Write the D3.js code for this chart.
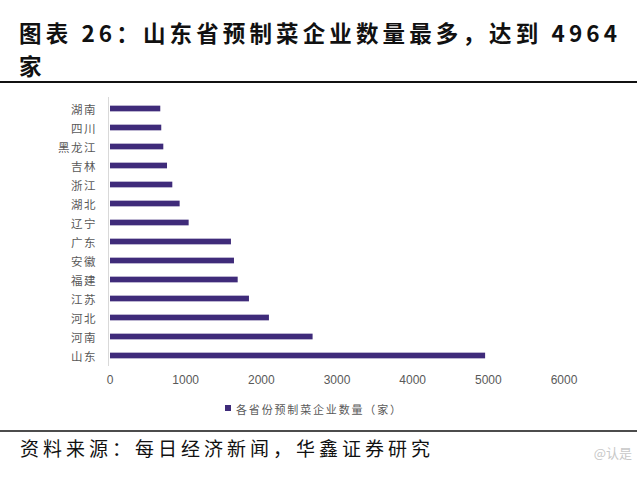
<!DOCTYPE html>
<html><head><meta charset="utf-8">
<script src="https://cdn.jsdelivr.net/npm/d3@7"></script>
<style>body{margin:0;background:#fff;}svg{display:block;}</style>
</head><body>
<script>
const categories = ["湖南","四川","黑龙江","吉林","浙江","湖北","辽宁","广东","安徽","福建","江苏","河北","河南","山东"];
const values = [671,684,711,760,830,927,1046,1605,1645,1694,1843,2107,2684,4964];
const tickValues = [0,1000,2000,3000,4000,5000,6000];
const seriesName = "各省份预制菜企业数量（家）";
const titleLine1 = "图表 26：山东省预制菜企业数量最多，达到 4964";
const titleLine2 = "家";
const sourceText = "资料来源：每日经济新闻，华鑫证券研究";

const W = 640, H = 477;
const svg = d3.select("body").append("svg").attr("width", W).attr("height", H);
const cjk = "'Noto Sans CJK SC','Noto Sans',sans-serif";

// Title
svg.append("text").attr("x", 19).attr("y", 42).text(titleLine1)
  .attr("font-family", cjk).attr("font-weight", 700).attr("font-size", 22.5)
  .attr("fill", "#111").attr("textLength", 598).attr("lengthAdjust", "spacing");
svg.append("text").attr("x", 19).attr("y", 75).text(titleLine2)
  .attr("font-family", cjk).attr("font-weight", 700).attr("font-size", 22.5).attr("fill", "#111");
svg.append("line").attr("x1", 0).attr("x2", 637).attr("y1", 82).attr("y2", 82)
  .attr("stroke", "#111").attr("stroke-width", 2);

// Scales
const x = d3.scaleLinear().domain([0, 6000]).range([109.5, 563.5]);
const y = d3.scaleBand().domain(categories).range([99, 365]).paddingInner(0.7).paddingOuter(0.35);

// Axis line (vertical)
svg.append("line").attr("x1", 108.5).attr("x2", 108.5).attr("y1", 97).attr("y2", 366)
  .attr("stroke", "#d9d9d9").attr("stroke-width", 1);

// Bars
svg.append("g").selectAll("rect").data(categories).join("rect")
  .attr("x", x(0) + 0.5)
  .attr("y", d => y(d))
  .attr("width", (d, i) => x(values[i]) - x(0) - 0.5)
  .attr("height", y.bandwidth())
  .attr("fill", "#3f2b7a");

// Category labels
svg.append("g").selectAll("text").data(categories).join("text")
  .attr("x", 97).attr("y", d => y(d) + y.bandwidth() / 2)
  .attr("text-anchor", "end").attr("dominant-baseline", "central")
  .attr("font-family", cjk).attr("font-size", 11.5).attr("letter-spacing", 1.5)
  .attr("fill", "#595959").text(d => d);

// X axis tick labels
const xAxis = d3.axisBottom(x).tickValues(tickValues).tickSize(0).tickPadding(0).tickFormat(d3.format("d"));
const gx = svg.append("g").attr("transform", "translate(0,375)").call(xAxis);
gx.select(".domain").remove();
gx.selectAll("text").attr("font-family", "'Liberation Sans',Arial,sans-serif").attr("font-size", 12)
  .attr("fill", "#595959").attr("dy", "0.71em");

// Legend
svg.append("rect").attr("x", 225).attr("y", 405).attr("width", 6).attr("height", 6).attr("fill", "#3f2b7a");
svg.append("text").attr("x", 236).attr("y", 409).attr("dominant-baseline", "central")
  .attr("font-family", cjk).attr("font-size", 11).attr("fill", "#595959")
  .attr("textLength", 165).attr("lengthAdjust", "spacing").text(seriesName);

// Footer
svg.append("line").attr("x1", 0).attr("x2", 637).attr("y1", 431).attr("y2", 431)
  .attr("stroke", "#111").attr("stroke-width", 1.5);
svg.append("text").attr("x", 20).attr("y", 456).text(sourceText)
  .attr("font-family", cjk).attr("font-size", 19).attr("fill", "#111")
  .attr("textLength", 410).attr("lengthAdjust", "spacing");
svg.append("text").attr("x", 632).attr("y", 458).attr("text-anchor", "end").text("@认是")
  .attr("font-family", cjk).attr("font-size", 13).attr("fill", "#c8c8c8");
</script>
</body></html>
